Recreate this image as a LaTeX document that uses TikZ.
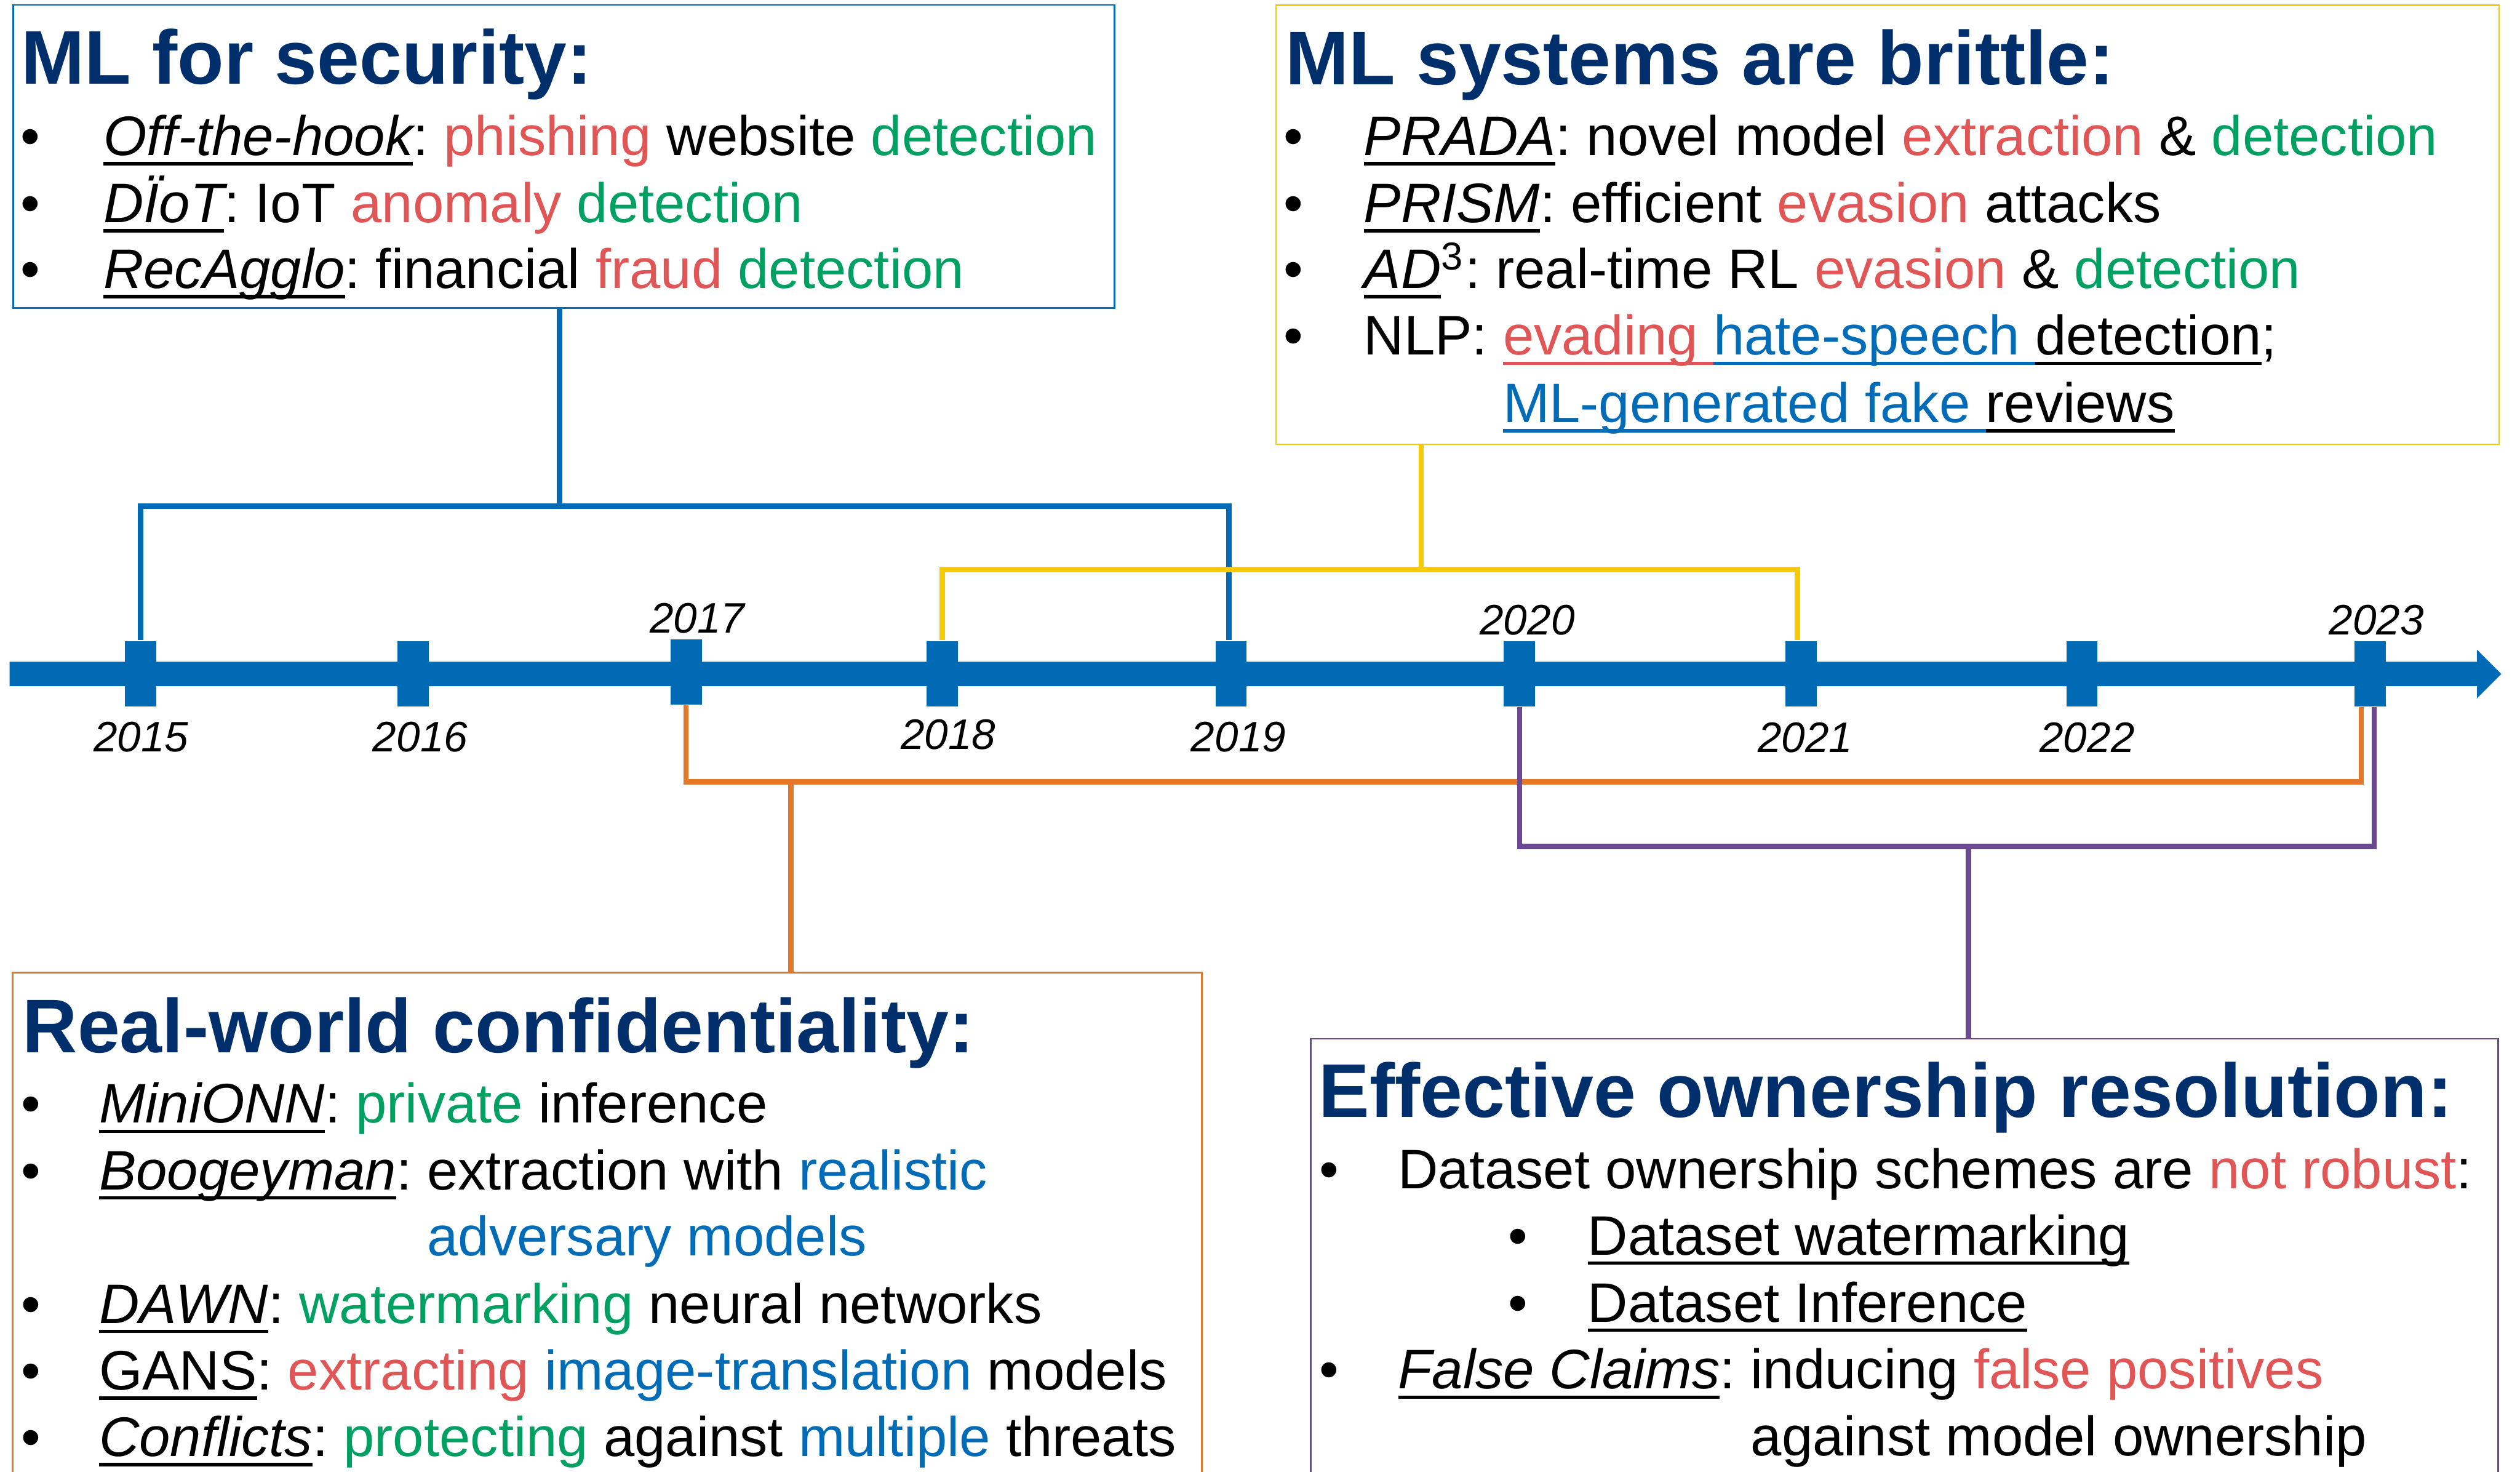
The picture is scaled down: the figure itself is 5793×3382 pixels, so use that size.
\documentclass[tikz,border=0pt]{standalone}
\usepackage{fontspec}
\setmainfont{Liberation Sans}
\frenchspacing

% palette
\definecolor{navy}{RGB}{0,47,108}
\definecolor{tl}{RGB}{0,107,180}
\definecolor{rd}{RGB}{224,86,86}
\definecolor{gr}{RGB}{0,160,98}
\definecolor{bl}{RGB}{0,107,182}
\definecolor{yl}{RGB}{245,203,5}
\definecolor{og}{RGB}{227,120,42}
\definecolor{pu}{RGB}{106,72,148}

% fonts
\newcommand{\bodyfont}{\fontsize{12.8pt}{15pt}\selectfont}
\newcommand{\titlefont}{\fontsize{17.5pt}{20pt}\selectfont\bfseries}
\newcommand{\yearfont}{\fontsize{9.8pt}{12pt}\selectfont\itshape}

% underline at a fixed depth, in the current colour
\newcommand{\undl}[1]{\setbox0=\hbox{#1}\rlap{\rule[-2.3pt]{\wd0}{0.8pt}}\box0}
% italic without the trailing italic correction
\newcommand{\itn}[1]{{\itshape #1}}

\tikzset{
  txtline/.style={anchor=base west, inner sep=0pt, font=\bodyfont},
  bul/.style={anchor=base, inner sep=0pt, font=\bodyfont},
  ttl/.style={anchor=base west, inner sep=0pt, font=\titlefont, text=navy},
  yr/.style={anchor=base, inner sep=0pt, font=\yearfont},
  yeartick/.style={fill=tl, minimum width=7.2pt, minimum height=15pt, inner sep=0pt},
  boxframe/.style={draw=#1, line width=0.35pt, inner sep=0pt},
  conn/.style={draw=#1, line width=1.2pt, line join=miter},
}

\begin{document}
\begin{tikzpicture}[x=0.1pt,y=-0.1pt]
\useasboundingbox (0,0) rectangle (5793,3382);
\fill[white] (0,0) rectangle (5793,3382);
\clip (0,0) rectangle (5793,3382);

% ---------- time axis ----------
\fill[tl] (22,1521) -- (5694,1521) -- (5694,1493) -- (5750,1549)
          -- (5694,1605) -- (5694,1577) -- (22,1577) -- cycle;

\node[yeartick] (t2015) at (323,1548) {};
\node[yeartick] (t2016) at (950,1548) {};
\node[yeartick] (t2017) at (1577,1544) {};
\node[yeartick] (t2018) at (2166,1548) {};
\node[yeartick] (t2019) at (2830,1548) {};
\node[yeartick] (t2020) at (3493,1548) {};
\node[yeartick] (t2021) at (4140,1548) {};
\node[yeartick] (t2022) at (4786,1548) {};
\node[yeartick] (t2023) at (5448,1548) {};

\node[yr] (y2015) at (324,1728) {2015};
\node[yr] (y2016) at (966,1728) {2016};
\node[yr] (y2017) at (1603,1455) {2017};
\node[yr] (y2018) at (2180,1722) {2018};
\node[yr] (y2019) at (2847,1728) {2019};
\node[yr] (y2020) at (3511,1459) {2020};
\node[yr] (y2021) at (4150,1729) {2021};
\node[yr] (y2022) at (4798,1729) {2022};
\node[yr] (y2023) at (5463,1459) {2023};

% ---------- boxes ----------
\node[boxframe=tl, minimum width=253.2pt, minimum height=69.7pt] (b1) at (1296,359.5) {};
\node[boxframe=yl, minimum width=281.2pt, minimum height=100.9pt] (b2) at (4339,516.5) {};
\node[boxframe=og, minimum width=273.4pt, minimum height=126.5pt] (b3) at (1396,2867.5) {};
\node[boxframe=pu, minimum width=273.0pt, minimum height=111.3pt] (b4) at (4378,2943.5) {};

% ---------- brackets ----------
\coordinate (bj) at (1286,1163);
\coordinate (yj) at (3267,1309);
\coordinate (oj) at (1818,1797);
\coordinate (pj) at (4525,1945);

\draw[conn=tl] (b1.south -| bj) -- (bj);
\draw[conn=tl] (t2015.north) -- (t2015.north |- bj) -- ([xshift=-0.5pt]t2019.north |- bj) -- ([xshift=-0.5pt]t2019.north);

\draw[conn=yl] (b2.south -| yj) -- (yj);
\draw[conn=yl] (t2018.north) -- (t2018.north |- yj) -- ([xshift=-0.8pt]t2021.north |- yj) -- ([xshift=-0.8pt]t2021.north);

\draw[conn=og] (t2017.south) -- (t2017.south |- oj) -- ([xshift=-2pt]t2023.south |- oj) -- ([xshift=-2pt]t2023.south);
\draw[conn=og] (oj) -- (b3.north -| oj);

\draw[conn=pu] (t2020.south) -- (t2020.south |- pj) -- ([xshift=1pt]t2023.south |- pj) -- ([xshift=1pt]t2023.south);
\draw[conn=pu] (pj) -- (b4.north -| pj);

% ---------- ML for security ----------
\node[ttl] (h1) at (47,193) {ML for security:};
\node[bul] (s1b1) at (70,357) {•};
\node[bul] (s1b2) at (70,511) {•};
\node[bul] (s1b3) at (70,663) {•};
\node[txtline] (s1l1) at (236,357) {\undl{\itn{Off-the-hook}}: {\color{rd}phishing} website {\color{gr}detection}};
\node[txtline] (s1l2) at (236,511) {\undl{\itn{DÏoT}}: IoT {\color{rd}anomaly} {\color{gr}detection}};
\node[txtline] (s1l3) at (236,663) {\undl{\itn{RecAgglo}}: financial {\color{rd}fraud} {\color{gr}detection}};

% ---------- ML systems are brittle ----------
\node[ttl] (h2) at (2953,194) {ML systems are brittle:};
\node[bul] (s2b1) at (2974,357) {•};
\node[bul] (s2b2) at (2974,511) {•};
\node[bul] (s2b3) at (2974,663) {•};
\node[bul] (s2b4) at (2974,816) {•};
\node[txtline] (s2l1) at (3133,357) {\undl{\itn{PRADA}}: novel model {\color{rd}extraction} \& {\color{gr}detection}};
\node[txtline] (s2l2) at (3133,511) {\undl{\itn{PRISM}}: efficient {\color{rd}evasion} attacks};
\node[txtline] (s2l3) at (3133,663) {\undl{\itn{AD}}\textsuperscript{3}: real-time RL {\color{rd}evasion} \& {\color{gr}detection}};
\node[txtline] (s2l4) at (3133,816) {NLP: {\color{rd}\undl{evading }}{\color{bl}\undl{hate-speech }}\undl{detection};};
\node[txtline] (s2l5) at (3133,971) {\phantom{NLP:\ }{\color{bl}\undl{ML-generated fake }}\undl{reviews}};

% ---------- Real-world confidentiality ----------
\node[ttl] (h3) at (50,2419) {Real-world confidentiality:};
\node[bul] (s3b1) at (71,2581) {•};
\node[bul] (s3b2) at (71,2734) {•};
\node[bul] (s3b4) at (71,3041) {•};
\node[bul] (s3b5) at (71,3194) {•};
\node[bul] (s3b6) at (71,3347) {•};
\node[txtline] (s3l1) at (226,2581) {\undl{\itn{MiniONN}}: {\color{gr}private} inference};
\node[txtline] (s3l2) at (226,2734) {\undl{\itn{Boogeyman}}: extraction with {\color{bl}realistic}};
\node[txtline] (s3l3) at (226,2886) {\phantom{\itn{Boogeyman}:\ }{\color{bl}adversary models}};
\node[txtline] (s3l4) at (226,3041) {\undl{\itn{DAWN}}: {\color{gr}watermarking} neural networks};
\node[txtline] (s3l5) at (226,3194) {\undl{GANS}: {\color{rd}extracting} {\color{bl}image-translation} models};
\node[txtline] (s3l6) at (226,3347) {\undl{\itn{Conflicts}}: {\color{gr}protecting} against {\color{bl}multiple} threats};

% ---------- Effective ownership resolution ----------
\node[ttl] (h4) at (3030,2567) {Effective ownership resolution:};
\node[bul] (s4b1) at (3055,2732) {•};
\node[bul] (s4b2) at (3490,2884) {•};
\node[bul] (s4b3) at (3490,3038) {•};
\node[bul] (s4b4) at (3055,3192) {•};
\node[txtline] (s4l1) at (3212,2732) {Dataset ownership schemes are {\color{rd}not robust}:};
\node[txtline] (s4l2) at (3648,2884) {\undl{Dataset watermarking}};
\node[txtline] (s4l3) at (3648,3038) {\undl{Dataset Inference}};
\node[txtline] (s4l4) at (3212,3192) {\undl{\itn{False Claims}}: inducing {\color{rd}false positives}};
\node[txtline] (s4l5) at (3212,3345) {\phantom{\itn{False Claims}:\ }against model ownership};
\end{tikzpicture}
\end{document}
